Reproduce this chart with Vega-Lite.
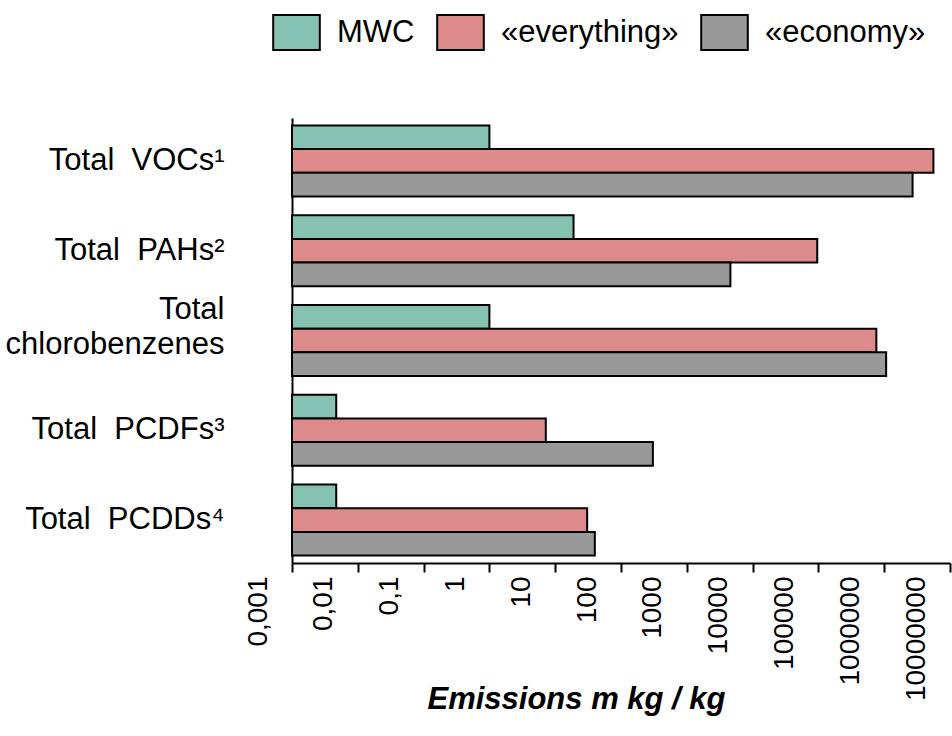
{
  "$schema": "https://vega.github.io/schema/vega-lite/v6.json",
  "width": 658,
  "height": 445,
  "autosize": {"type": "none"},
  "padding": {"left": 292, "top": 118, "right": 2, "bottom": 173},
  "background": "white",
  "data": {
    "values": [
      {"category": "Total\u00a0 VOCs\u00b9", "series": "MWC", "value": 1.0},
      {"category": "Total\u00a0 VOCs\u00b9", "series": "\u00abeverything\u00bb", "value": 5600000},
      {"category": "Total\u00a0 VOCs\u00b9", "series": "\u00abeconomy\u00bb", "value": 2700000},
      {"category": "Total\u00a0 PAHs\u00b2", "series": "MWC", "value": 19},
      {"category": "Total\u00a0 PAHs\u00b2", "series": "\u00abeverything\u00bb", "value": 96000},
      {"category": "Total\u00a0 PAHs\u00b2", "series": "\u00abeconomy\u00bb", "value": 4600},
      {"category": "Total chlorobenzenes", "series": "MWC", "value": 1.0},
      {"category": "Total chlorobenzenes", "series": "\u00abeverything\u00bb", "value": 760000},
      {"category": "Total chlorobenzenes", "series": "\u00abeconomy\u00bb", "value": 1070000},
      {"category": "Total\u00a0 PCDFs\u00b3", "series": "MWC", "value": 0.0047},
      {"category": "Total\u00a0 PCDFs\u00b3", "series": "\u00abeverything\u00bb", "value": 7.2},
      {"category": "Total\u00a0 PCDFs\u00b3", "series": "\u00abeconomy\u00bb", "value": 305},
      {"category": "Total\u00a0 PCDDs\u2074", "series": "MWC", "value": 0.0047},
      {"category": "Total\u00a0 PCDDs\u2074", "series": "\u00abeverything\u00bb", "value": 30.6},
      {"category": "Total\u00a0 PCDDs\u2074", "series": "\u00abeconomy\u00bb", "value": 40}
    ]
  },
  "mark": {"type": "bar", "stroke": "black", "strokeWidth": 2},
  "encoding": {
    "y": {
      "field": "category",
      "type": "nominal",
      "sort": ["Total\u00a0 VOCs\u00b9", "Total\u00a0 PAHs\u00b2", "Total chlorobenzenes", "Total\u00a0 PCDFs\u00b3", "Total\u00a0 PCDDs\u2074"],
      "scale": {"paddingInner": 0.21, "paddingOuter": 0.083},
      "axis": {
        "title": null,
        "ticks": false,
        "labelFont": "Liberation Sans",
        "labelFontSize": 31,
        "labelColor": "black",
        "labelPadding": 68,
        "labelLimit": 400,
        "labelLineHeight": 35,
        "labelOffset": {"condition": {"test": "datum.value == 'Total chlorobenzenes'", "value": -31}, "value": 0},
        "labelExpr": "datum.value == 'Total chlorobenzenes' ? ['Total', 'chlorobenzenes'] : datum.value",
        "domainColor": "black",
        "domainWidth": 2,
        "grid": false
      }
    },
    "yOffset": {
      "field": "series",
      "type": "nominal",
      "sort": ["MWC", "\u00abeverything\u00bb", "\u00abeconomy\u00bb"],
      "scale": {"paddingInner": 0, "paddingOuter": 0}
    },
    "x": {
      "field": "value",
      "type": "quantitative",
      "scale": {"type": "log", "domain": [0.001, 10000000], "nice": false},
      "axis": {
        "values": [0.001, 0.01, 0.1, 1, 10, 100, 1000, 10000, 100000, 1000000, 10000000],
        "labelExpr": "datum.value < 1 ? replace(format(datum.value, '~g'), '.', ',') : format(datum.value, 'd')",
        "labelAngle": 270,
        "labelFont": "Liberation Sans",
        "labelFontSize": 28,
        "labelOffset": -34,
        "labelPadding": 4,
        "labelColor": "black",
        "labelOverlap": false,
        "labelFlush": false,
        "labelBound": false,
        "tickSize": 9,
        "tickWidth": 2,
        "tickColor": "black",
        "domainColor": "black",
        "domainWidth": 2,
        "grid": false,
        "title": "Emissions m kg / kg",
        "titleFont": "Liberation Sans",
        "titleFontSize": 31,
        "titleFontWeight": "bold",
        "titleFontStyle": "italic",
        "titleColor": "black",
        "titleX": 284,
        "titleY": 145,
        "titleAlign": "center",
        "titleBaseline": "alphabetic",
        "titleAngle": 0
      }
    },
    "x2": {"datum": 0.001},
    "color": {
      "field": "series",
      "type": "nominal",
      "sort": ["MWC", "\u00abeverything\u00bb", "\u00abeconomy\u00bb"],
      "scale": {
        "domain": ["MWC", "\u00abeverything\u00bb", "\u00abeconomy\u00bb"],
        "range": ["#85C2B1", "#DD8A8A", "#999999"]
      },
      "legend": {
        "orient": "none",
        "direction": "horizontal",
        "columns": 3,
        "legendX": -20,
        "legendY": -110,
        "title": null,
        "padding": 0,
        "symbolType": "M-1,-0.75H1V0.75H-1Z",
        "symbolSize": 2172,
        "symbolStrokeColor": "black",
        "symbolStrokeWidth": 2,
        "symbolOpacity": 1,
        "labelFont": "Liberation Sans",
        "labelFontSize": 31,
        "labelColor": "black",
        "labelOffset": 16,
        "labelLimit": 400,
        "columnPadding": 18
      }
    }
  },
  "config": {"view": {"stroke": null}, "font": "Liberation Sans"}
}
